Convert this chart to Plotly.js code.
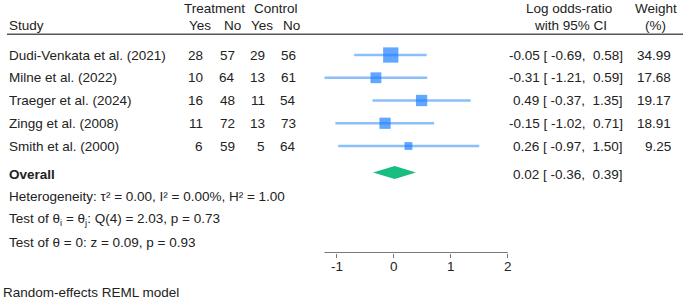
<!DOCTYPE html>
<html>
<head>
<meta charset="utf-8">
<script src="https://cdn.plot.ly/plotly-3.0.1.min.js"></script>
<style>html,body{margin:0;padding:0;background:#fff;}#chart{width:685px;height:300px;}</style>
</head>
<body>
<div id="chart"></div>
<script>
// ---- data ----
const studies = ["Dudi-Venkata et al. (2021)", "Milne et al. (2022)", "Traeger et al. (2024)", "Zingg et al. (2008)", "Smith et al. (2000)"];
const treatYes = [28, 10, 16, 11, 6];
const treatNo = [57, 64, 48, 72, 59];
const ctrlYes = [29, 13, 11, 13, 5];
const ctrlNo = [56, 61, 54, 73, 64];
const logOR = [-0.05, -0.31, 0.49, -0.15, 0.26];
const ciLow = [-0.69, -1.21, -0.37, -1.02, -0.97];
const ciHigh = [0.58, 0.59, 1.35, 0.71, 1.50];
const weights = [34.99, 17.68, 19.17, 18.91, 9.25];
const overallEst = 0.02, overallLow = -0.36, overallHigh = 0.39;
const tickVals = [-1, 0, 1, 2];
const tickText = ["-1", "0", "1", "2"];
const hetText = "Heterogeneity: τ² = 0.00, I² = 0.00%, H² = 1.00";
const qText = "Test of θ<sub>i</sub> = θ<sub>j</sub>: Q(4) = 2.03, p = 0.73";
const zText = "Test of θ = 0: z = 0.09, p = 0.93";
const modelText = "Random-effects REML model";

// ---- layout helpers ----
const W = 685, H = 300;
const FONT = "Liberation Sans, Arial, Helvetica, sans-serif";
const TXT = "#222";
const FS = 13.5;
const ROW0 = 55, ROWH = 22.75;           // pixel centre of first row, row spacing
const rowOfPx = p => 1 + (p - ROW0) / ROWH;
const px = v => v / W;
const rows = studies.map((_, i) => i + 1);
const overallRow = rowOfPx(172.5);
const nb = s => s.replace(/ /g, "\u00a0");
const fmt = v => v.toFixed(2);
const ciStr = (e, l, h) => nb(fmt(e) + " [ " + fmt(l) + ",  " + fmt(h) + "]");

const ann = [];
function addText(text, xpx, yrow, anchor, opts) {
  ann.push(Object.assign({
    text: text, x: px(xpx), xref: "paper", y: yrow, yref: "y",
    xanchor: anchor, yanchor: "middle", showarrow: false,
    font: {family: FONT, size: FS, color: TXT}, borderpad: 0
  }, opts || {}));
}

// header
const h1 = rowOfPx(8.5), h2 = rowOfPx(25.5);
addText("Treatment", 214, h1, "center");
addText("Control", 276, h1, "center");
addText("Study", 8, h2, "left");
addText("Yes", 200, h2, "center");
addText("No", 232, h2, "center");
addText("Yes", 261.5, h2, "center");
addText("No", 291.5, h2, "center");
addText("Log odds-ratio", 569, h1, "center");
addText("with 95% CI", 570, h2, "center");
addText("Weight", 656, h1, "center");
addText("(%)", 655, h2, "center");

// study rows
studies.forEach((s, i) => {
  const r = rows[i];
  addText(s, 8, r, "left");
  addText(String(treatYes[i]), 204, r, "right");
  addText(String(treatNo[i]), 236.5, r, "right");
  addText(String(ctrlYes[i]), 266, r, "right");
  addText(String(ctrlNo[i]), 297, r, "right");
  addText(ciStr(logOR[i], ciLow[i], ciHigh[i]), 624, r, "right");
  addText(fmt(weights[i]), 672, r, "right");
});
addText("<b>Overall</b>", 8, rowOfPx(174), "left");
addText(ciStr(overallEst, overallLow, overallHigh), 624, rowOfPx(174), "right");
addText(hetText, 8, rowOfPx(196.5), "left");
addText(qText, 8, rowOfPx(219), "left");
addText(zText, 8, rowOfPx(242), "left");
addText(modelText, 2, rowOfPx(292), "left");

// tick labels (drawn at the axis scale positions)
const axisPx = 252.5;
tickVals.forEach((v, i) => {
  ann.push({text: tickText[i], x: v, xref: "x", y: rowOfPx(266), yref: "y",
    xanchor: "center", yanchor: "middle", showarrow: false, borderpad: 0,
    font: {family: FONT, size: FS, color: TXT}});
});

// ---- traces ----
const ciX = [], ciY = [];
rows.forEach((r, i) => { ciX.push(ciLow[i], ciHigh[i], null); ciY.push(r, r, null); });

const dh = 6.5 / ROWH;
const traces = [
  {x: ciX, y: ciY, mode: "lines", type: "scatter", line: {color: "rgb(140,190,250)", width: 2.5}, hoverinfo: "skip", showlegend: false},
  {x: logOR, y: rows, mode: "markers", type: "scatter",
   marker: {symbol: "square", color: "rgb(30,128,255)", size: weights.map(w => 2.58 * Math.sqrt(w)), line: {width: 0}},
   showlegend: false},
  {x: [overallLow, overallEst, overallHigh, overallEst, overallLow],
   y: [overallRow, overallRow - dh, overallRow, overallRow + dh, overallRow],
   mode: "lines", type: "scatter", fill: "toself", fillcolor: "rgb(24,190,128)", line: {width: 0, color: "rgb(24,190,128)"}, showlegend: false}
];

const layout = {
  width: W, height: H,
  margin: {l: 0, r: 0, t: 0, b: 0},
  paper_bgcolor: "#fff", plot_bgcolor: "#fff",
  font: {family: FONT, size: FS, color: TXT},
  showlegend: false,
  xaxis: {
    domain: [0, 1], range: [-393.6 / 57.1, (W - 393.6) / 57.1],
    anchor: "free", position: 1 - axisPx / H,
    tickvals: tickVals, ticks: "outside", ticklen: 4, tickwidth: 1, tickcolor: "#777",
    showticklabels: false, showline: false, showgrid: false, zeroline: false
  },
  yaxis: {
    domain: [0, 1], range: [rowOfPx(H), rowOfPx(0)],
    visible: false, showgrid: false, zeroline: false
  },
  shapes: [
    {type: "line", xref: "paper", yref: "y", x0: px(7), x1: px(683), y0: rowOfPx(34.3), y1: rowOfPx(34.3), line: {color: "#555", width: 1.5}},
    {type: "line", xref: "x", yref: "paper", x0: Math.min(...ciLow), x1: Math.max(...tickVals), y0: 1 - axisPx / H, y1: 1 - axisPx / H, line: {color: "#777", width: 1}}
  ],
  annotations: ann
};

Plotly.newPlot("chart", traces, layout, {displayModeBar: false, staticPlot: true});
</script>
</body>
</html>
